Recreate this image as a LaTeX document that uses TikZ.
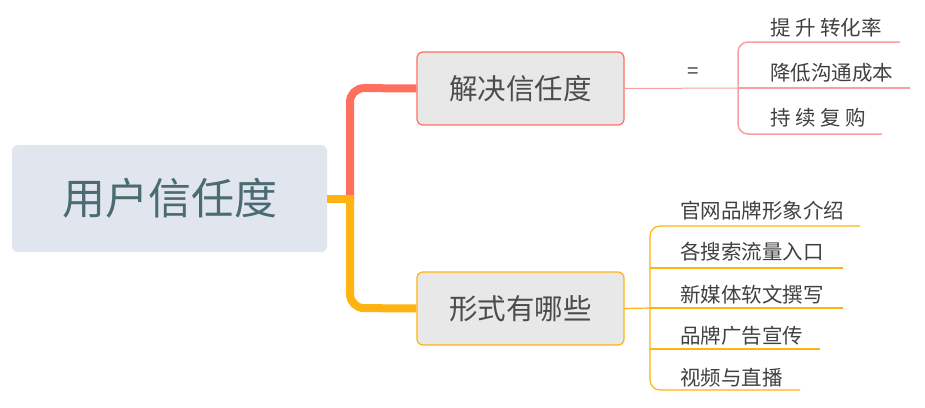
\documentclass[tikz,border=0pt]{standalone}
\usepackage{fontspec}
\setmainfont{Noto Sans CJK SC}
\begin{document}
\begin{tikzpicture}[x=1pt,y=-1pt,
  txt/.style={text=black!75,inner sep=0pt,anchor=west,font=\fontsize{20.5}{22}\selectfont},
  box/.style={fill=black!9,rounded corners=6pt,minimum width=207pt,minimum height=73pt,line width=1.2pt,text=black!70,font=\fontsize{28.5}{30}\selectfont}]
\definecolor{rd}{HTML}{FF6F5E}
\definecolor{og}{HTML}{FFB310}
\definecolor{lrd}{HTML}{F8A0A0}
\useasboundingbox (0,0) rectangle (925,407);
\node[fill={rgb,255:red,225;green,229;blue,238},rounded corners=6pt,minimum width=315pt,minimum height=107pt,text={rgb,255:red,74;green,107;blue,114},font=\fontsize{43}{46}\selectfont] (root) at (169.5,198.5) {用户信任度};
\node[box,draw=rd] (b1) at (520.5,88.5) {解决信任度};
\node[box,draw=og] (b2) at (520.5,308.5) {形式有哪些};
\coordinate (j) at (350,199);
\draw[og,line width=8pt] (root.east|-j) -- (j);
\draw[rd,line width=8pt,rounded corners=14pt] (350,203) -- (350,88) -- (b1.west);
\draw[og,line width=8pt,rounded corners=14pt] (350,195) -- (350,308) -- (b2.west);
% right of b1
\coordinate (e1) at (738,88);
\draw[lrd,line width=1pt] (b1.east) -- (e1);
\node[txt,anchor=center] (eq) at (693,73) {=};
\draw[lrd,line width=1.5pt,rounded corners=10pt] (900,42) -- (738,42) -- (738,134) -- (882,134);
\draw[lrd,line width=1.5pt] (e1) -- (910,88);
\node[txt] (t1) at (770,28) {提 升 转化率};
\node[txt] (t2) at (770,73) {降低沟通成本};
\node[txt] (t3) at (770,118) {持 续 复 购};
% right of b2
\coordinate (e2) at (650,308);
\draw[og,line width=1.2pt] (b2.east) -- (e2);
\draw[og,line width=1.2pt,rounded corners=10pt] (860,226) -- (650,226) -- (650,390) -- (800,390);
\foreach \y/\x in {268/843,308/843,349/820}{\draw[og,line width=1.2pt] (650,\y) -- (\x,\y);}
\node[txt] (s1) at (680,211) {官网品牌形象介绍};
\node[txt] (s2) at (680,252) {各搜索流量入口};
\node[txt] (s3) at (680,295) {新媒体软文撰写};
\node[txt] (s4) at (680,336) {品牌广告宣传};
\node[txt] (s5) at (680,378) {视频与直播};
\end{tikzpicture}
\end{document}
